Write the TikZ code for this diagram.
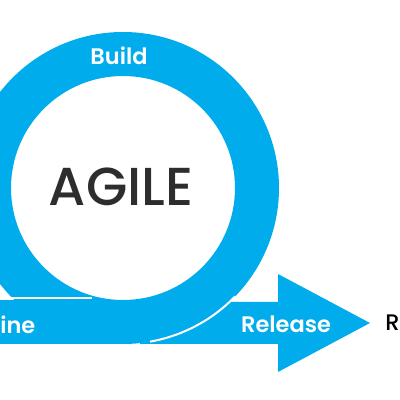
\documentclass[tikz,border=0pt]{standalone}
\usepackage{fontspec}
\setmainfont{Poppins}
\newfontfamily\medfont{Poppins Medium}
\newfontfamily\semifont{Poppins SemiBold}
\usepackage{xcolor}
\usetikzlibrary{
	positioning,
	calc
}
\definecolor{agileblue}{RGB}{0,172,236}
\definecolor{agilegray}{RGB}{45,45,45}

\begin{document}
\begin{tikzpicture}[
			x=0.25mm, y=0.25mm,
			band/.style={fill=agileblue, draw=none},
			gap/.style={draw=white, line width=0.5mm},
			label/.style={
				text=white, inner sep=0pt,
				font=\semifont\fontsize{16}{16}\selectfont
			},
			title/.style={
				text=agilegray, inner sep=0pt,
				font=\medfont\fontsize{38}{38}\selectfont
			},
			tag/.style={
				text=black, inner sep=0pt,
				font=\medfont\fontsize{16}{16}\selectfont
			}
			]
			
			% fixed frame, things on the left run off the edge
			\useasboundingbox (0,0) rectangle (400,400);
			\clip (0,0) rectangle (400,400);
			
			% centre of the loop
			\coordinate (c) at (123,212);
			
			% ---------------- release arrow ----------------
			\fill[band] (140,56) -- (278,56) -- (278,28) -- (370,77)
				-- (278,126) -- (278,98) -- (140,98) -- cycle;
			
			% ---------------- loop ----------------
			\fill[band, even odd rule] (c) circle (156) (c) circle (112);
			\draw[gap] ($(c)+(-44:156)$) arc (-44:-80:156);
			
			% ---------------- refine band ----------------
			\fill[band] (-10,56) rectangle (123,100);
			\draw[gap] (-10,101.5) -- (92,101.5);
			
			% ---------------- labels ----------------
			\node[title] (agile) at (121,213) {AGILE};
			\node[label] (build) at (119,344) {Build};
			\node[label] (release) at (286,76) {Release};
			\node[label, anchor=west] (refine) at (0,75) {ine};
			\node[tag, anchor=west] (next) at (385,77) {R};
		\end{tikzpicture}
\end{document}
